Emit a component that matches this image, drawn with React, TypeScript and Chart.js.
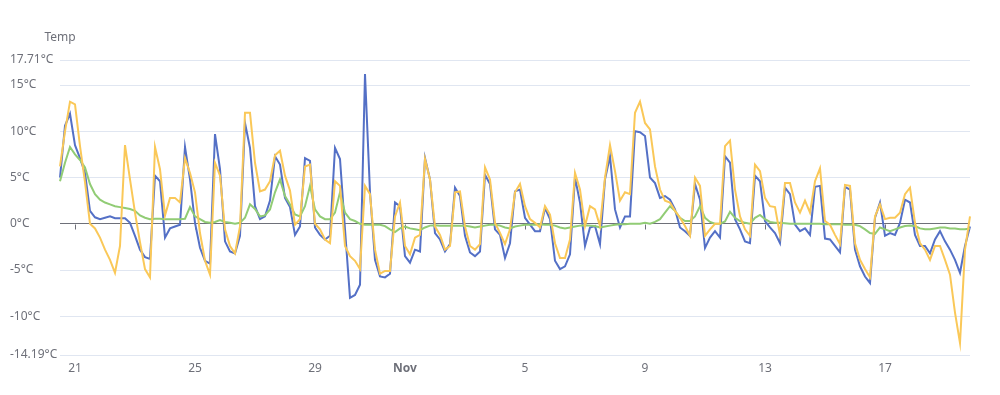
import React, { useEffect, useRef } from "react";
import { Chart, registerables } from "chart.js";

Chart.register(...registerables);

// x axis: 4-hourly readings from 2023-10-20 12:00 (UTC)
const START_UTC = Date.UTC(2023, 9, 20, 12, 0);
const STEP_HOURS = 4;

const TICK_DATES = ["2023-10-21", "2023-10-25", "2023-10-29", "2023-11-01", "2023-11-05", "2023-11-09", "2023-11-13", "2023-11-17"];
const TICK_LABELS = ["21", "25", "29", "Nov", "5", "9", "13", "17"];

const Y_TICKS = [-14.19, -10, -5, 0, 5, 10, 15, 17.71];
const Y_MIN = -14.19;
const Y_MAX = 17.71;

const BLUE = [
  5.0, 10.6, 11.9, 8.5, 7.1, 5.5, 1.4, 0.7, 0.5, 0.65, 0.8, 0.6, 0.6, 0.6, 0.1, -1.3, -2.8, -3.6, -3.8, 5.2,
  4.6, -1.5, -0.5, -0.3, -0.1, 8.3, 4.8, 0.1, -2.6, -4.0, -4.3, 9.7, 5.9, -1.9, -3.0, -3.2, -1.3, 10.9, 8.2, 1.9,
  0.5, 0.8, 2.5, 7.3, 6.4, 2.8, 1.8, -1.2, -0.3, 7.1, 6.8, -0.4, -1.2, -1.7, -1.3, 8.2, 7.0, -0.6, -8.0, -7.7,
  -6.6, 16.2, 3.4, -3.9, -5.7, -5.8, -5.4, 2.3, 1.9, -3.5, -4.2, -2.8, -3.0, 7.1, 4.8, -1.0, -1.7, -3.0, -2.2, 3.9,
  3.0, -1.3, -3.1, -3.5, -3.0, 5.3, 4.3, -0.6, -1.2, -3.7, -2.1, 3.5, 3.7, 0.65, -0.1, -0.8, -0.8, 1.7, 0.5, -4.0,
  -4.9, -4.6, -3.3, 5.0, 2.3, -2.4, -0.4, -0.25, -2.2, 4.8, 7.3, 1.55, -0.4, 0.8, 0.8, 10.0, 9.9, 9.5, 5.0, 4.4,
  2.8, 3.0, 2.6, 1.55, -0.4, -0.8, -1.3, 4.3, 2.6, -2.6, -1.5, -0.8, -1.5, 7.3, 6.6, 0.5, -0.6, -1.9, -2.1, 5.2,
  4.6, 0.3, -0.4, -1.0, -2.1, 3.9, 3.2, -0.1, -0.8, -0.5, -1.2, 4.0, 4.1, -1.6, -1.7, -2.4, -3.1, 4.0, 3.7, -2.8,
  -4.6, -5.7, -6.4, 0.65, 2.3, -1.3, -1.0, -1.2, 0.1, 2.6, 2.3, -1.2, -2.4, -2.4, -3.2, -1.7, -0.8, -1.9, -2.8, -3.9,
  -5.3, -2.4, -0.3,
];

const YELLOW = [
  6.2, 10.0, 13.2, 12.9, 8.4, 4.5, 0.0, -0.5, -1.5, -2.8, -3.9, -5.3, -2.4, 8.5, 4.8, 1.2, -2.0, -4.9, -5.8, 8.3,
  5.9, 0.9, 2.8, 2.8, 2.3, 7.1, 5.5, 3.4, -1.0, -4.0, -5.5, 6.6, 5.2, -0.6, -2.4, -3.2, -0.3, 12.0, 12.0, 6.6,
  3.5, 3.7, 4.6, 7.4, 7.9, 5.2, 3.6, -0.1, 0.5, 6.2, 6.4, 0.0, -0.6, -1.7, -2.1, 4.6, 4.1, -2.4, -3.5, -4.0,
  -4.9, 4.1, 3.2, -2.8, -5.4, -5.1, -5.1, 0.8, 2.3, -2.4, -3.3, -1.5, -1.2, 7.0, 4.8, -0.3, -1.2, -2.8, -2.4, 3.4,
  3.5, -0.3, -2.4, -2.8, -2.2, 6.1, 4.8, 0.1, -1.0, -2.2, -0.6, 3.4, 4.3, 1.9, 0.5, 0.1, -0.4, 1.9, 1.0, -2.1,
  -3.7, -3.7, -1.7, 5.5, 3.7, -0.25, 1.9, 1.55, -0.25, 5.0, 8.5, 5.7, 2.5, 3.4, 3.2, 12.0, 13.2, 10.9, 10.2, 6.2,
  3.7, 2.5, 2.3, 1.4, 0.65, -0.25, -1.3, 5.0, 4.1, -1.3, -0.6, 0.0, 0.0, 8.4, 9.0, 3.7, 0.8, -0.6, -1.3, 6.4,
  5.7, 2.8, 1.9, 1.8, -1.2, 4.4, 4.4, 2.3, 1.2, 2.5, 1.2, 4.6, 6.0, 0.3, -0.1, -1.2, -2.2, 4.2, 4.1, -2.1,
  -3.9, -4.9, -5.8, 0.8, 2.1, 0.5, 0.65, 0.65, 1.2, 3.2, 3.9, 0.1, -2.1, -2.8, -3.9, -2.4, -2.4, -3.9, -5.5, -9.6,
  -12.9, -2.8, 0.8,
];

const GREEN = [
  4.6, 6.6, 8.3, 7.5, 6.9, 6.1, 4.3, 3.2, 2.6, 2.3, 2.1, 1.9, 1.8, 1.7, 1.6, 1.4, 0.9, 0.65, 0.5, 0.55,
  0.55, 0.5, 0.5, 0.5, 0.5, 0.55, 1.8, 0.8, 0.5, 0.2, 0.1, 0.2, 0.4, 0.2, 0.1, 0.0, 0.1, 0.65, 2.1, 1.6,
  0.8, 0.9, 1.55, 3.4, 4.8, 3.0, 2.1, 1.0, 0.8, 1.9, 4.1, 1.55, 0.8, 0.5, 0.5, 1.2, 3.4, 1.2, 0.5, 0.3,
  0.0, -0.1, -0.1, -0.1, -0.1, -0.25, -0.6, -0.9, -0.5, -0.3, -0.5, -0.6, -0.7, -0.4, -0.2, -0.15, -0.2, -0.2, -0.2, -0.2,
  -0.2, -0.2, -0.3, -0.4, -0.3, -0.2, -0.1, -0.1, -0.2, -0.4, -0.5, -0.3, -0.2, -0.1, -0.1, -0.1, -0.05, -0.1, -0.1, -0.2,
  -0.4, -0.5, -0.4, -0.3, -0.2, -0.15, -0.2, -0.25, -0.4, -0.3, -0.2, -0.1, -0.05, -0.05, 0.0, 0.0, 0.0, 0.1, 0.0, 0.2,
  0.5, 1.2, 1.9, 1.4, 0.65, 0.3, 0.3, 0.8, 1.9, 0.65, 0.2, 0.0, 0.0, 0.25, 1.3, 0.65, 0.3, 0.1, 0.0, 0.65,
  0.95, 0.5, 0.2, 0.1, 0.1, 0.05, 0.0, 0.0, 0.0, 0.0, 0.0, 0.0, 0.0, -0.05, -0.05, -0.05, -0.05, -0.1, -0.1, -0.1,
  -0.25, -0.6, -1.0, -1.1, -0.4, -0.6, -0.8, -0.6, -0.4, -0.25, -0.2, -0.25, -0.5, -0.6, -0.6, -0.5, -0.4, -0.4, -0.5, -0.5,
  -0.6, -0.6, -0.5,
];

const pad = (n: number) => String(n).padStart(2, "0");
const CATEGORIES: string[] = BLUE.map((_, i) => {
  const d = new Date(START_UTC + i * STEP_HOURS * 3600 * 1000);
  return `${d.getUTCFullYear()}-${pad(d.getUTCMonth() + 1)}-${pad(d.getUTCDate())} ${pad(d.getUTCHours())}:00`;
});

const FONT = '"Noto Sans", "Liberation Sans", sans-serif';
const LABEL_COLOR = "#6E7079";

const extrasPlugin = {
  id: "extras",
  beforeDatasetsDraw(chart: any) {
    const xs = chart.scales.x;
    const ys = chart.scales.y;
    const ctx = chart.ctx;
    const y0 = Math.round(ys.getPixelForValue(0)) + 0.5;
    ctx.save();
    ctx.strokeStyle = LABEL_COLOR;
    ctx.lineWidth = 1;
    xs.ticks.forEach((t: any, i: number) => {
      if (!t.label) return;
      const px = Math.round(xs.getPixelForTick(i)) + 0.5;
      ctx.beginPath();
      ctx.moveTo(px, y0);
      ctx.lineTo(px, y0 + 5);
      ctx.stroke();
    });
    ctx.fillStyle = LABEL_COLOR;
    ctx.font = `12px ${FONT}`;
    ctx.textAlign = "center";
    ctx.textBaseline = "middle";
    ctx.fillText("Temp", chart.chartArea.left, 38);
    ctx.restore();
  },
};

export default function App() {
  const ref = useRef<HTMLCanvasElement | null>(null);

  useEffect(() => {
    if (!ref.current) return;
    const chart = new Chart(ref.current, {
      type: "line",
      data: {
        labels: CATEGORIES,
        datasets: [
          { label: "Blue", data: BLUE, borderColor: "#5470c6", borderWidth: 2, pointRadius: 0, tension: 0, order: 2 },
          { label: "Green", data: GREEN, borderColor: "#91cc75", borderWidth: 2, pointRadius: 0, tension: 0, order: 1 },
          { label: "Yellow", data: YELLOW, borderColor: "#fac858", borderWidth: 2, pointRadius: 0, tension: 0, order: 0 },
        ],
      },
      options: {
        responsive: true,
        maintainAspectRatio: false,
        animation: false,
        layout: { padding: { left: 10, right: 30, top: 60, bottom: 0 } },
        plugins: { legend: { display: false }, tooltip: { enabled: false } },
        scales: {
          x: {
            type: "category",
            offset: false,
            grid: { display: false, drawTicks: false },
            border: { display: false },
            afterFit: (s: any) => { s.height = 40; },
            ticks: {
              autoSkip: false,
              maxRotation: 0,
              minRotation: 0,
              padding: 6,
              color: LABEL_COLOR,
              font: (c: any) => ({ family: FONT, size: 12, weight: c.tick && c.tick.label === "Nov" ? "bold" : "normal" }),
              callback: (_v: any, i: number) => {
                const lbl = CATEGORIES[i];
                if (!lbl || !lbl.endsWith(" 00:00")) return "";
                const k = TICK_DATES.indexOf(lbl.slice(0, 10));
                return k >= 0 ? TICK_LABELS[k] : "";
              },
            },
          },
          y: {
            min: Y_MIN,
            max: Y_MAX,
            afterBuildTicks: (s: any) => { s.ticks = Y_TICKS.map((v) => ({ value: v })); },
            afterFit: (s: any) => { s.width = 50; },
            border: { display: false },
            grid: {
              drawTicks: false,
              color: (c: any) => (c.tick && c.tick.value === 0 ? "#6E7079" : "#E0E6F1"),
              lineWidth: 1,
            },
            ticks: {
              crossAlign: "far",
              color: LABEL_COLOR,
              font: { family: FONT, size: 12 },
              callback: (v: any) => `${v}°C`,
            },
          },
        },
      },
      plugins: [extrasPlugin],
    });
    return () => chart.destroy();
  }, []);

  return (
    <div style={{ position: "absolute", left: 0, top: 0, width: 1000, height: 395, background: "#fff" }}>
      <canvas ref={ref} />
    </div>
  );
}
